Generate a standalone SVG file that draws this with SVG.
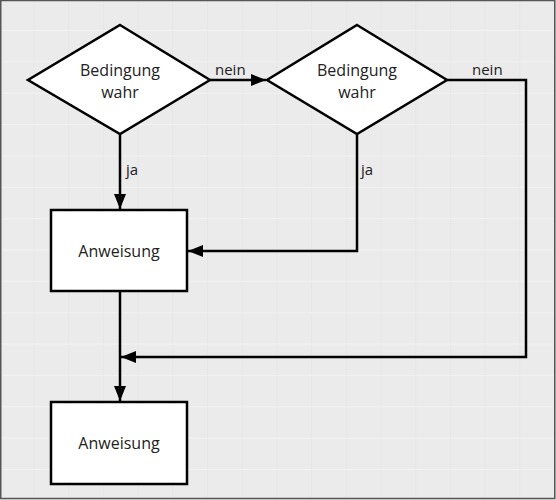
<svg xmlns="http://www.w3.org/2000/svg" width="556" height="500" viewBox="0 0 556 500">
  <defs>
    <pattern id="grid" x="33.5" y="30" width="34.7" height="31.36" patternUnits="userSpaceOnUse">
      <rect x="0" y="0" width="34.7" height="31.36" fill="#ebebeb"/>
      <line x1="0" y1="0" x2="0" y2="31.36" stroke="#e2e2e2" stroke-width="1"/>
      <line x1="0" y1="0" x2="34.7" y2="0" stroke="#f5f5f5" stroke-width="1.5"/>
    </pattern>
    <marker id="arrow" viewBox="0 0 15 12" refX="15" refY="6" markerWidth="15" markerHeight="12" markerUnits="userSpaceOnUse" orient="auto">
      <path d="M0,0 L15,6 L0,12 Z" fill="#000"/>
    </marker>
    <style>
      .shape { fill: #ffffff; stroke: #000; stroke-width: 2.5; stroke-linejoin: miter; }
      .edge { fill: none; stroke: #000; stroke-width: 2.5; }
      .label { font-family: "Open Sans", "Noto Sans", sans-serif; font-size: 16px; fill: #222; text-anchor: middle; }
      .elabel { font-family: "Open Sans", "Noto Sans", sans-serif; font-size: 15px; fill: #222; }
    </style>
  </defs>

  <!-- canvas -->
  <rect x="0" y="0" width="556" height="500" fill="url(#grid)"/>
  <rect x="0.75" y="0.5" width="554" height="498" fill="none" stroke="#555" stroke-width="1.5"/>

  <!-- connectors -->
  <g id="connectors">
    <path class="edge" d="M210,80 L266,80" marker-end="url(#arrow)"/>
    <text class="elabel" x="215" y="75">nein</text>

    <path class="edge" d="M120,134 L120,209" marker-end="url(#arrow)"/>
    <text class="elabel" x="126" y="175">ja</text>

    <path class="edge" d="M357,134 L357,251 L188,251" marker-end="url(#arrow)"/>
    <text class="elabel" x="361" y="175">ja</text>

    <path class="edge" d="M447,80 L526,80 L526,357 L121,357" marker-end="url(#arrow)"/>
    <text class="elabel" x="472" y="75">nein</text>

    <path class="edge" d="M120,291 L120,401" marker-end="url(#arrow)"/>
  </g>

  <!-- decision 1 -->
  <g id="decision1">
    <polygon class="shape" points="120,25 210,80 120,134 28,80"/>
    <text class="label" x="120" y="76">Bedingung</text>
    <text class="label" x="120" y="98">wahr</text>
  </g>

  <!-- decision 2 -->
  <g id="decision2">
    <polygon class="shape" points="357,25 447,80 357,134 267,80"/>
    <text class="label" x="357" y="76">Bedingung</text>
    <text class="label" x="357" y="98">wahr</text>
  </g>

  <!-- statement 1 -->
  <g id="statement1">
    <rect class="shape" x="51" y="210" width="136" height="81"/>
    <text class="label" x="119" y="257">Anweisung</text>
  </g>

  <!-- statement 2 -->
  <g id="statement2">
    <rect class="shape" x="51" y="402" width="136" height="82"/>
    <text class="label" x="119" y="449">Anweisung</text>
  </g>
</svg>
